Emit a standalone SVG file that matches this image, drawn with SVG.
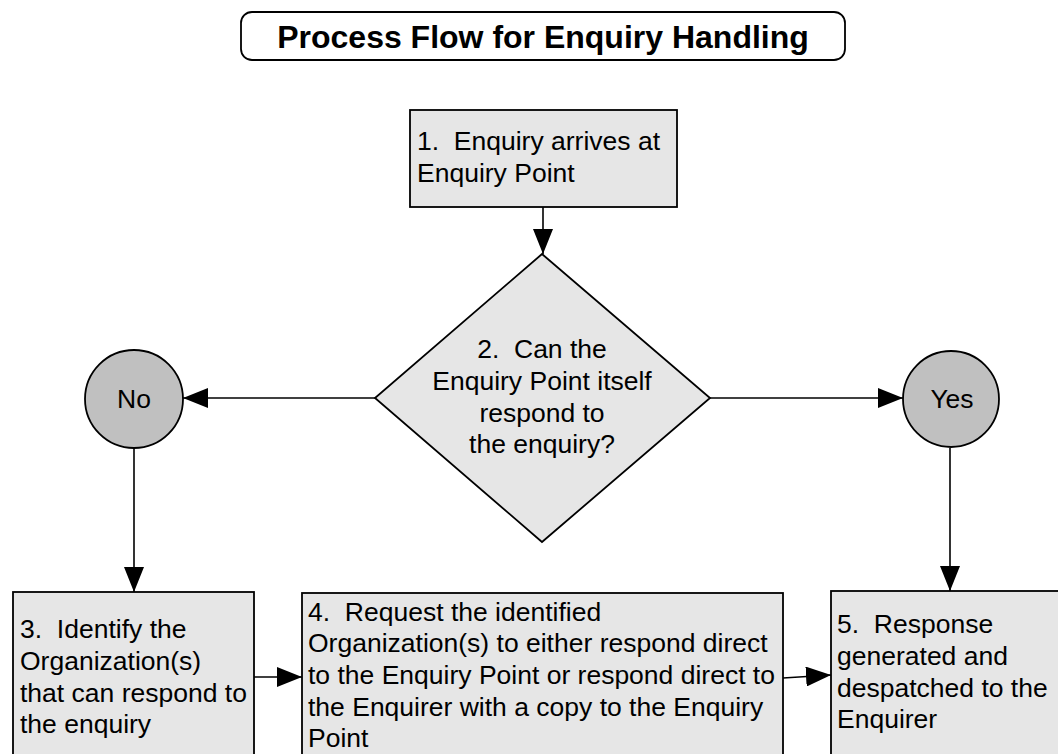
<svg xmlns="http://www.w3.org/2000/svg" width="1058" height="754" viewBox="0 0 1058 754">
<defs>
<style>
text{font-family:"Liberation Sans",Arial,sans-serif;font-size:26.5px;fill:#000;white-space:pre}
.box{fill:#e6e6e6;stroke:#000;stroke-width:1.8}
.circ{fill:#c0c0c0;stroke:#000;stroke-width:1.8}
.conn line{stroke:#000;stroke-width:1.6;marker-end:url(#ah)}
.mid{text-anchor:middle}
</style>
<marker id="ah" markerUnits="userSpaceOnUse" markerWidth="26" markerHeight="20" refX="25" refY="10" orient="auto">
<path d="M0,0 L25,10 L0,20 z" fill="#000"/>
</marker>
</defs>
<rect width="1058" height="754" fill="#fff"/>
<g id="title">
<rect x="241" y="12" width="604" height="48" rx="11" fill="#fff" stroke="#000" stroke-width="1.8"/>
<text x="543" y="48" class="mid" style="font-weight:bold;font-size:32px">Process Flow for Enquiry Handling</text>
</g>
<g class="conn" id="connectors">
<line x1="543" y1="207" x2="543" y2="254"/>
<line x1="375" y1="398" x2="183" y2="398"/>
<line x1="710" y1="398" x2="903" y2="398"/>
<line x1="134" y1="448" x2="134" y2="592"/>
<line x1="950" y1="448" x2="950" y2="591"/>
<line x1="254" y1="677" x2="302" y2="677"/>
<line x1="783" y1="678" x2="831" y2="675"/>
</g>
<g id="n1">
<rect class="box" x="410" y="110" width="267" height="97"/>
<text x="417" y="150">1.  Enquiry arrives at</text>
<text x="417" y="182">Enquiry Point</text>
</g>
<g id="n2">
<polygon class="box" points="542,254 710,398 542,542 375,398"/>
<text class="mid" x="542" y="358">2.  Can the</text>
<text class="mid" x="542" y="390">Enquiry Point itself</text>
<text class="mid" x="542" y="422">respond to</text>
<text class="mid" x="542" y="453">the enquiry?</text>
</g>
<g id="no">
<circle class="circ" cx="134" cy="399" r="49"/>
<text class="mid" x="134" y="408">No</text>
</g>
<g id="yes">
<circle class="circ" cx="951" cy="399" r="48"/>
<text class="mid" x="952" y="408">Yes</text>
</g>
<g id="n3">
<rect class="box" x="13" y="592" width="241" height="170"/>
<text x="20" y="638">3.  Identify the</text>
<text x="20" y="670">Organization(s)</text>
<text x="20" y="702">that can respond to</text>
<text x="20" y="733">the enquiry</text>
</g>
<g id="n4">
<rect class="box" x="302" y="593" width="481" height="170"/>
<text x="308" y="621">4.  Request the identified</text>
<text x="308" y="652">Organization(s) to either respond direct</text>
<text x="308" y="684">to the Enquiry Point or respond direct to</text>
<text x="308" y="716">the Enquirer with a copy to the Enquiry</text>
<text x="308" y="747">Point</text>
</g>
<g id="n5">
<rect class="box" x="831" y="591" width="240" height="170"/>
<text x="837" y="633">5.  Response</text>
<text x="837" y="665">generated and</text>
<text x="837" y="697">despatched to the</text>
<text x="837" y="728">Enquirer</text>
</g>
</svg>
